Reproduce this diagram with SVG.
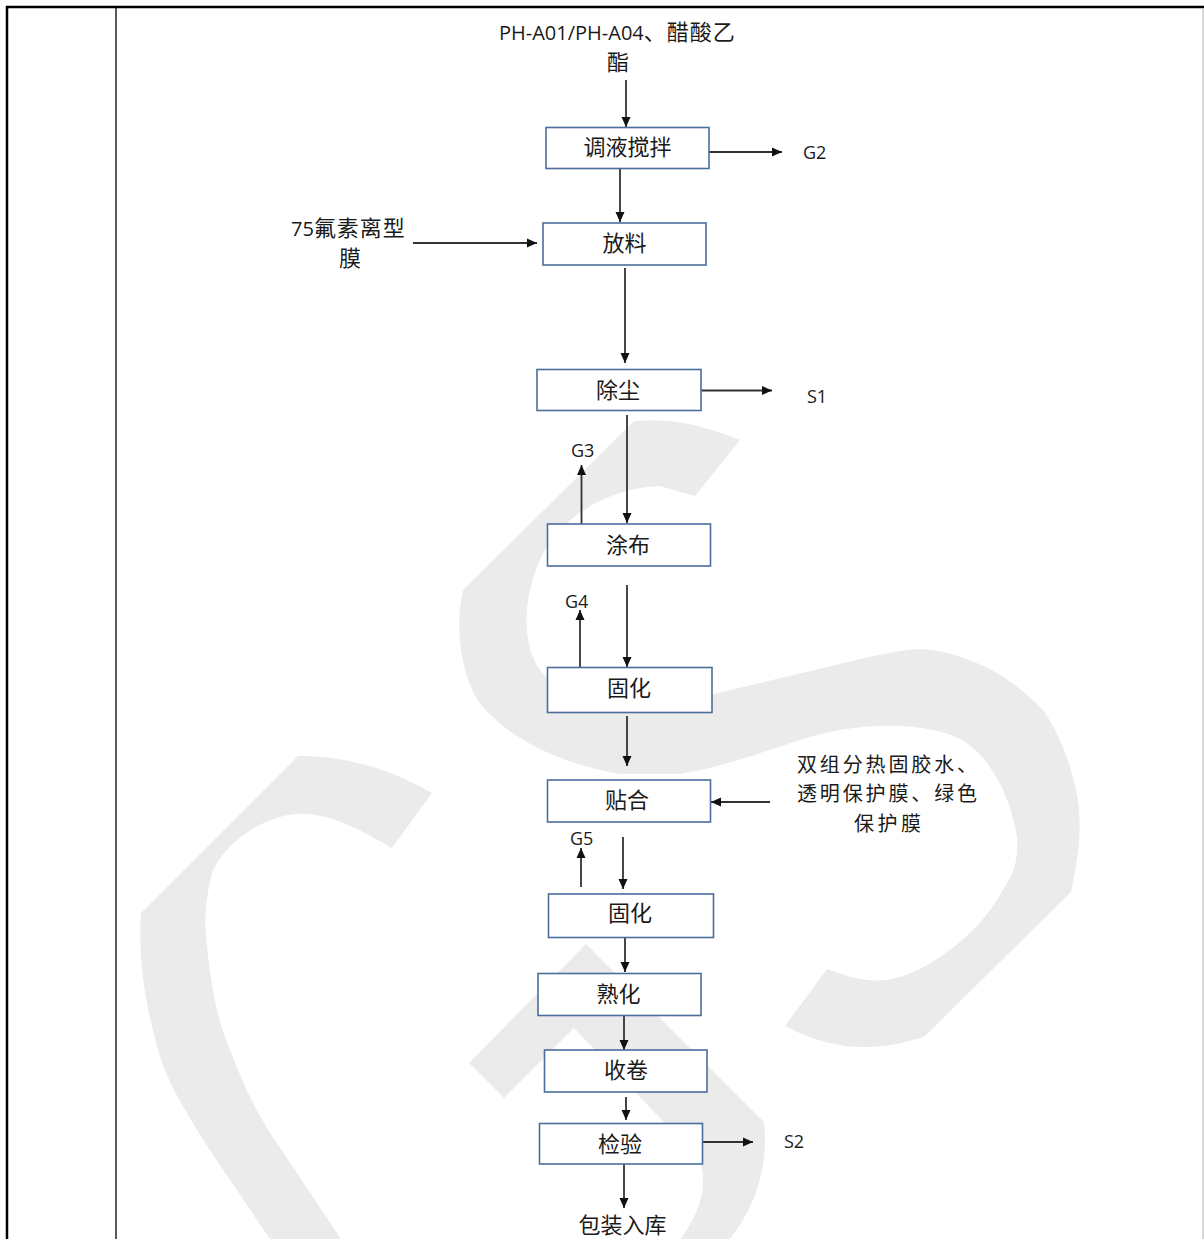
<svg xmlns="http://www.w3.org/2000/svg" width="1204" height="1239" viewBox="0 0 1204 1239">
<style>
.wm{fill:#ebebeb;stroke:none}
.box{fill:#ffffff;stroke:#4a6d9c;stroke-width:1.6}
.cj{font-family:"Noto Sans CJK SC","Noto Sans",sans-serif;font-size:22px;fill:#1a1a1a}
.cjs{font-family:"Noto Sans CJK SC","Noto Sans",sans-serif;font-size:20px;fill:#1a1a1a}
.lat{font-family:"Open Sans","Liberation Sans",sans-serif;font-size:20px;fill:#1a1a1a}
.lab{font-family:"Open Sans","Liberation Sans",sans-serif;font-size:18px;fill:#1a1a1a}
.con line{stroke:#333333;stroke-width:1.8;marker-end:url(#ah)}
</style>
<defs>
<marker id="ah" viewBox="0 0 10 10" refX="10" refY="5" markerWidth="11" markerHeight="10" markerUnits="userSpaceOnUse" orient="auto">
<path d="M0,0.5 L10,5 L0,9.5 Z" fill="#111111"/>
</marker>
</defs>
<rect x="0" y="0" width="1204" height="1239" fill="#ffffff"/>
<g id="watermark">
<path class="wm" d="M392,848 C360,830 330,812 295,814 C262,818 228,840 213,870 C204,900 205,930 206,935 C210,980 215,1010 227,1042 C245,1090 260,1120 281,1149 L341,1239 L270,1239 L209,1149 C185,1110 165,1080 156,1042 C145,1000 138,960 141,913 L298,756 C340,755 390,768 432,793 Z"/>
<path class="wm" d="M740,440 C700,424 670,418 634,421 L463,590 C455,625 460,670 477,699 C495,725 540,760 620,774 L680,774 C740,764 790,740 834,731 C870,724 920,722 956,737 C990,752 1012,800 1017,838 C1018,858 1015,870 1008,881 C990,915 970,935 956,945 C935,962 910,977 886,980 C865,982 845,976 827,969 L785,1026 C815,1042 845,1048 869,1047 C890,1046 910,1042 925,1036 L1071,892 C1078,860 1082,830 1078,801 C1072,765 1060,735 1043,710 C1020,687 1000,672 974,662 C955,654 935,649 918,649 C900,650 885,654 869,657 L660,707 C600,706 560,695 540,670 C522,645 522,600 540,560 C555,525 600,488 660,486 L695,496 Z"/>
<path class="wm" d="M469,1063 L586,944 L764,1122 C768,1160 760,1200 730,1239 L681,1239 C700,1210 708,1190 700,1160 L574,1028 L504,1098 Z"/>
</g>
<g id="table">
<line x1="6" y1="7" x2="1204" y2="7" stroke="#000" stroke-width="2.5"/>
<line x1="7" y1="6" x2="7" y2="1239" stroke="#000" stroke-width="2.5"/>
<line x1="116" y1="8" x2="116" y2="1239" stroke="#222" stroke-width="1.5"/>
<line x1="1203" y1="8" x2="1203" y2="1239" stroke="#cccccc" stroke-width="1.5"/>
</g>
<g class="con" id="connectors">
<line x1="626" y1="80" x2="626" y2="127"/>
<line x1="709" y1="152" x2="782" y2="152"/>
<line x1="620" y1="169" x2="620" y2="222"/>
<line x1="413" y1="243" x2="537" y2="243"/>
<line x1="625" y1="268" x2="625" y2="363"/>
<line x1="700" y1="390.5" x2="772" y2="390.5"/>
<line x1="627" y1="415" x2="627" y2="523"/>
<line x1="581.5" y1="526" x2="581.5" y2="465"/>
<line x1="627" y1="585" x2="627" y2="667"/>
<line x1="580" y1="667" x2="580" y2="610"/>
<line x1="627" y1="716" x2="627" y2="766"/>
<line x1="770" y1="802" x2="711" y2="802"/>
<line x1="581" y1="887" x2="581" y2="848"/>
<line x1="623" y1="837" x2="623" y2="889"/>
<line x1="625" y1="938" x2="625" y2="972"/>
<line x1="624" y1="1016" x2="624" y2="1050"/>
<line x1="626" y1="1097" x2="626" y2="1120"/>
<line x1="696" y1="1142" x2="753" y2="1142"/>
<line x1="624" y1="1160" x2="624" y2="1208"/>
</g>
<g id="input-top">
<text x="499" y="40"><tspan class="lat">PH-A01/PH-A04</tspan><tspan class="cj" textLength="91" lengthAdjust="spacing">、醋酸乙</tspan></text>
<text class="cj" x="618" y="70" text-anchor="middle">酯</text>
</g>
<g id="n1"><rect class="box" x="546" y="127.5" width="163" height="41"/><text class="cj" x="627.5" y="155" text-anchor="middle">调液搅拌</text></g>
<g id="g2"><text class="lab" x="803" y="158.5">G2</text></g>
<g id="input-75">
<text x="291" y="235.5"><tspan class="lat">75</tspan><tspan class="cj" textLength="91" lengthAdjust="spacing">氟素离型</tspan></text>
<text class="cj" x="350" y="265.5" text-anchor="middle">膜</text>
</g>
<g id="n2"><rect class="box" x="543" y="223" width="163" height="42"/><text class="cj" x="624.5" y="251" text-anchor="middle">放料</text></g>
<g id="n3"><rect class="box" x="537" y="369.5" width="164" height="41"/><text class="cj" x="618" y="397.5" text-anchor="middle">除尘</text></g>
<g id="s1"><text class="lab" x="807" y="403">S1</text></g>
<g id="g3"><text class="lab" x="571" y="456.5">G3</text></g>
<g id="n4"><rect class="box" x="547.5" y="524" width="163" height="42"/><text class="cj" x="628" y="552.5" text-anchor="middle">涂布</text></g>
<g id="g4"><text class="lab" x="565" y="608">G4</text></g>
<g id="n5"><rect class="box" x="547.5" y="667.5" width="164.5" height="45"/><text class="cj" x="629" y="696" text-anchor="middle">固化</text></g>
<g id="n6"><rect class="box" x="547.5" y="780" width="163" height="42"/><text class="cj" x="627" y="807.5" text-anchor="middle">贴合</text></g>
<g id="input-right">
<text class="cjs" x="797" y="772" textLength="180" lengthAdjust="spacing">双组分热固胶水、</text>
<text class="cjs" x="797" y="801" textLength="180" lengthAdjust="spacing">透明保护膜、绿色</text>
<text class="cjs" x="854" y="830.5" textLength="67" lengthAdjust="spacing">保护膜</text>
</g>
<g id="g5"><text class="lab" x="570" y="844.5">G5</text></g>
<g id="n7"><rect class="box" x="548.5" y="894" width="165" height="43.5"/><text class="cj" x="630" y="921" text-anchor="middle">固化</text></g>
<g id="n8"><rect class="box" x="538" y="973.5" width="163" height="42"/><text class="cj" x="618.5" y="1002" text-anchor="middle">熟化</text></g>
<g id="n9"><rect class="box" x="544.5" y="1050" width="162.5" height="42"/><text class="cj" x="626" y="1077.5" text-anchor="middle">收卷</text></g>
<g id="n10"><rect class="box" x="539.5" y="1123.5" width="163" height="40.5"/><text class="cj" x="620" y="1152" text-anchor="middle">检验</text></g>
<g id="s2"><text class="lab" x="784" y="1147.5">S2</text></g>
<g id="out"><text class="cj" x="622.5" y="1232.5" text-anchor="middle">包装入库</text></g>
</svg>
